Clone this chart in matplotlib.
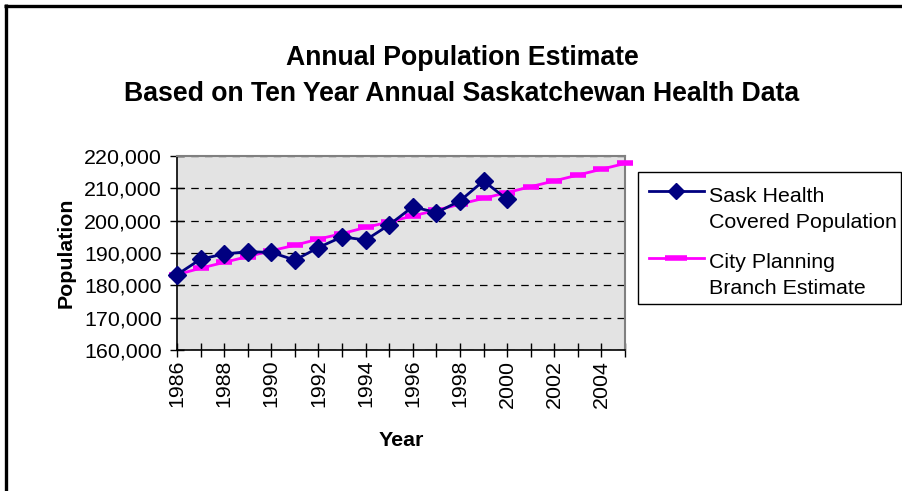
import matplotlib
matplotlib.use("Agg")
import matplotlib.pyplot as plt
from matplotlib.lines import Line2D
from matplotlib.patches import Rectangle
from matplotlib.ticker import FuncFormatter

plt.rcParams['font.family'] = ['Liberation Sans', 'DejaVu Sans']

sask_years = [1986, 1987, 1988, 1989, 1990, 1991, 1992, 1993, 1994, 1995,
              1996, 1997, 1998, 1999, 2000]
sask_pop = [183300, 188100, 189700, 190400, 190200, 187800, 191700, 195000,
            194000, 198700, 204300, 202500, 206100, 212300, 206600]

city_years = list(range(1986, 2006))
city_pop = [183300, 185300, 187100, 188900, 190700, 192400, 194300, 196000,
            197900, 199600, 201500, 203200, 205100, 206900, 208700, 210500,
            212300, 214100, 215900, 217700]

series_labels = [['Sask Health', 'Covered Population'],
                 ['City Planning', 'Branch Estimate']]
x_ticks_labels = list(range(1986, 2006, 2))
y_ticks = [160000, 170000, 180000, 190000, 200000, 210000, 220000]

W, H = 903, 491
FS = 15.4
fig = plt.figure(figsize=(W / 100, H / 100), dpi=100)
fig.patch.set_facecolor('white')


def fx(px):
    return px / W


def fy(py):
    return 1 - py / H


# Border lines (top and left)
fig.add_artist(Line2D([fx(5.7), fx(5.7)], [0, fy(4)], transform=fig.transFigure,
                      color='black', lw=2.4, solid_capstyle='butt'))
fig.add_artist(Line2D([fx(4), 1], [fy(5.7), fy(5.7)], transform=fig.transFigure,
                      color='black', lw=2.4, solid_capstyle='butt'))

ax = fig.add_axes([fx(177), fy(350), fx(625 - 177), (350 - 156) / H])
ax.set_facecolor('#E3E3E3')

blue_style = dict(color='#000080', lw=2, marker='D', markersize=9,
                  markerfacecolor='#000080', markeredgecolor='#000080')
pink_style = dict(color='#FF00FF', lw=2, marker='_', markersize=11,
                  markeredgewidth=4, markeredgecolor='#FF00FF')

ax.plot(sask_years, sask_pop, zorder=4, clip_on=False, **blue_style)
ax.plot(city_years, city_pop, zorder=3, clip_on=False, **pink_style)

ax.set_xlim(1986, 2005)
ax.set_ylim(160000, 220000)
ax.set_yticks(y_ticks)
ax.yaxis.set_major_formatter(FuncFormatter(lambda v, p: f"{int(v):,}"))
ax.set_xticks(city_years)
ax.set_xticklabels([str(y) if y in x_ticks_labels else '' for y in city_years],
                   rotation=90)

ax.grid(axis='y', color='black', linestyle=(0, (6, 5)), lw=0.9)
ax.set_axisbelow(True)

for s in ['top', 'right']:
    ax.spines[s].set_color('#808080')
    ax.spines[s].set_linewidth(1.5)
for s in ['left', 'bottom']:
    ax.spines[s].set_color('black')
    ax.spines[s].set_linewidth(1.2)

ax.tick_params(axis='both', direction='inout', length=10, width=1, labelsize=FS,
               colors='black')
ax.tick_params(axis='x', pad=2)
ax.tick_params(axis='y', pad=6)

ax.set_xlabel('Year', fontsize=FS, fontweight='bold', labelpad=17)
ax.set_ylabel('Population', fontsize=FS, fontweight='bold', labelpad=6)

fig.text(fx(462), fy(58), 'Annual Population Estimate', ha='center', va='center',
         fontsize=19.2, fontweight='bold')
fig.text(fx(462), fy(94), 'Based on Ten Year Annual Saskatchewan Health Data',
         ha='center', va='center', fontsize=19.2, fontweight='bold')

# Legend (Excel style: handle aligned with the first text line)
fig.add_artist(Rectangle((fx(638), fy(304)), fx(901 - 638), (304 - 172) / H,
                         transform=fig.transFigure, facecolor='white',
                         edgecolor='black', lw=1.0))
entries = [(blue_style, series_labels[0], 191, [196, 222]),
           (pink_style, series_labels[1], 258, [263, 288])]
for style, lines, hy, tys in entries:
    st = dict(style)
    if st['marker'] == '_':
        st['markersize'] = 16
    else:
        st['markersize'] = 8
    fig.add_artist(Line2D([fx(649), fx(676.5), fx(704)], [fy(hy)] * 3,
                          transform=fig.transFigure, linestyle='-',
                          lw=st.pop('lw'), color=st.pop('color'),
                          markevery=[1], **st))
    for txt, ty in zip(lines, tys):
        fig.text(fx(709), fy(ty), txt, ha='left', va='center', fontsize=FS)

fig.savefig('out.png', dpi=100)
